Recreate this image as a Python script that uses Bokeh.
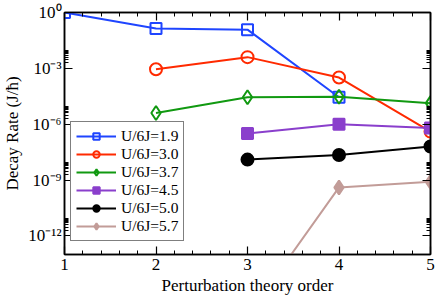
import numpy as np
from bokeh.plotting import figure
from bokeh.models import (LogAxis, LinearAxis, FixedTicker, CustomJSTickFormatter,
                          Legend, LegendItem, Range1d)
from bokeh.embed import file_html
from bokeh.resources import INLINE

# ---------------- data ----------------
x_19 = [1, 2, 3, 4]
y_19 = [1.0, 0.14, 0.12, 2.8e-5]
x_30 = [2, 3, 4, 5]
y_30 = [9.0e-4, 4.0e-3, 3.2e-4, 4.0e-7]
x_37 = [2, 3, 4, 5]
y_37 = [4.0e-6, 2.8e-5, 3.0e-5, 1.35e-5]
x_45 = [3, 4, 5]
y_45 = [3.2e-7, 1.0e-6, 6.3e-7]
x_50 = [3, 4, 5]
y_50 = [1.25e-8, 2.2e-8, 6.3e-8]
x_57 = [3, 4, 5]
y_57 = [5.0e-17, 4.0e-10, 8.0e-10]

labels = ["U/6J=1.9", "U/6J=3.0", "U/6J=3.7", "U/6J=4.5", "U/6J=5.0", "U/6J=5.7"]
x_ticks = [1, 2, 3, 4, 5]
y_major = [1e0, 1e-3, 1e-6, 1e-9, 1e-12]

FONT = "Liberation Serif"

p = figure(width=436, height=297, output_backend="svg", toolbar_location=None,
           y_axis_type="log", x_range=Range1d(1, 5), y_range=Range1d(1e-13, 1),
           min_border_left=62, min_border_right=6, min_border_top=12, min_border_bottom=42)
p.background_fill_color = "white"
p.border_fill_color = "white"
p.outline_line_color = "black"
p.outline_line_width = 1.5
p.xgrid.visible = False
p.ygrid.visible = False

minor_y = [k * 10.0 ** e for e in (-3, -6, -9, -12) for k in range(2, 10)]
yticker = FixedTicker(ticks=y_major, minor_ticks=minor_y)
xminor = [1 + 0.2 * i for i in range(21)]
xticker = FixedTicker(ticks=x_ticks, minor_ticks=xminor)

sup_code = """
const m = {'0':'\u2070','1':'\u00b9','2':'\u00b2','3':'\u00b3','4':'\u2074','5':'\u2075',
           '6':'\u2076','7':'\u2077','8':'\u2078','9':'\u2079','-':'\u207b'};
const e = Math.round(Math.log10(tick));
return '10' + String(e).split('').map(c => m[c]).join('');
"""

def style_axis(ax):
    ax.axis_line_color = "black"
    ax.axis_line_width = 1.5
    ax.major_tick_in = 8
    ax.major_tick_out = 0
    ax.minor_tick_in = 4
    ax.minor_tick_out = 0
    ax.major_tick_line_color = "black"
    ax.minor_tick_line_color = "black"
    ax.major_tick_line_width = 1.2
    ax.minor_tick_line_width = 1
    ax.major_label_text_font = FONT
    ax.major_label_text_font_size = "17px"
    ax.major_label_text_color = "black"
    ax.axis_label_text_font = FONT
    ax.axis_label_text_font_size = "17px"
    ax.axis_label_text_font_style = "normal"
    ax.axis_label_text_color = "black"

xa = p.xaxis[0]
xa.ticker = xticker
style_axis(xa)
xa.major_label_standoff = 4
xa.axis_label = "Perturbation theory order"
xa.axis_label_standoff = 3

ya = p.yaxis[0]
ya.ticker = yticker
ya.formatter = CustomJSTickFormatter(code=sup_code)
style_axis(ya)
ya.major_label_standoff = 3
ya.axis_label = "Decay Rate (J/\u0127)"
ya.axis_label_standoff = 3

empty = "return '';"
ra = LogAxis(ticker=FixedTicker(ticks=y_major, minor_ticks=minor_y),
             formatter=CustomJSTickFormatter(code=empty))
style_axis(ra)
ra.major_label_standoff = 0
ra.major_label_text_font_size = "0px"
p.add_layout(ra, "right")
ta = LinearAxis(ticker=FixedTicker(ticks=x_ticks, minor_ticks=xminor),
                formatter=CustomJSTickFormatter(code=empty))
style_axis(ta)
ta.major_label_standoff = 0
ta.major_label_text_font_size = "0px"
p.add_layout(ta, "above")

series = [
    (x_19, y_19, "#1f45ff", "square", False, 11),
    (x_30, y_30, "#ff2a00", "circle", False, 12),
    (x_37, y_37, "#119911", "diamond", False, 14),
    (x_45, y_45, "#8a3fcc", "square", True, 11),
    (x_50, y_50, "#000000", "circle", True, 12),
    (x_57, y_57, "#c29c98", "diamond", True, 14),
]

items = []
for (xs, ys, col, mk, filled, sz), lab in zip(series, labels):
    r1 = p.line(xs, ys, line_color=col, line_width=2)
    r2 = p.scatter(xs, ys, marker=mk, size=sz, line_color=col, line_width=2,
                   fill_color=col if filled else "white",
                   fill_alpha=1.0 if filled else 0.0)
    items.append(LegendItem(label=lab, renderers=[r1, r2]))

leg = Legend(items=items, location=(6, 13))
leg.label_text_font = FONT
leg.label_text_font_size = "15.5px"
leg.label_text_color = "black"
leg.label_height = 16
leg.glyph_height = 16
leg.glyph_width = 40
leg.label_standoff = 5
leg.spacing = 0
leg.padding = 5
leg.margin = 0
leg.border_line_color = "black"
leg.border_line_width = 1.2
leg.background_fill_alpha = 1.0
p.add_layout(leg, "center")

open("out.html", "w").write(file_html(p, INLINE))
